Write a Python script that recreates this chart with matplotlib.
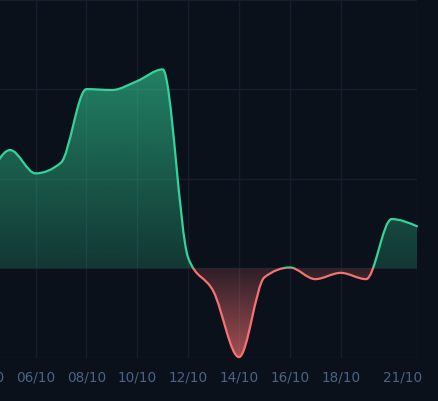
import numpy as np
import matplotlib
matplotlib.use("Agg")
import matplotlib.pyplot as plt
from matplotlib.path import Path
from matplotlib.patches import PathPatch, Rectangle
from matplotlib.transforms import ScaledTranslation

# ---- data ----
days = [4, 5, 6, 7, 8, 9, 10, 11, 12, 13, 14, 15, 16, 17, 18, 19, 20, 21]
values = [88, 132, 106, 118, 200, 199, 209, 222, 12, -26, -99, -10, 1, -12, -5, -12, 55, 47]
tick_days = [4, 6, 8, 10, 12, 14, 16, 18, 21]
tick_labels = ["04/10", "06/10", "08/10", "10/10", "12/10", "14/10", "16/10", "18/10", "21/10"]
y_ticks = [-100, 0, 100, 200, 300]

BG = "#0a111b"
GRID = "#151e2b"
GREEN = "#34d399"
RED = "#f87171"
TXT = "#4b6386"


def monotone_tangents(x, y):
    x = np.asarray(x, float); y = np.asarray(y, float)
    n = len(x)
    t = np.zeros(n)
    for i in range(1, n - 1):
        h0 = x[i] - x[i - 1]; h1 = x[i + 1] - x[i]
        s0 = (y[i] - y[i - 1]) / h0; s1 = (y[i + 1] - y[i]) / h1
        p = (s0 * h1 + s1 * h0) / (h0 + h1)
        t[i] = (np.sign(s0) + np.sign(s1)) * min(abs(s0), abs(s1), 0.5 * abs(p))
    h = x[1] - x[0]
    t[0] = (3 * (y[1] - y[0]) / h - t[1]) / 2
    h = x[-1] - x[-2]
    t[-1] = (3 * (y[-1] - y[-2]) / h - t[-2]) / 2
    return t


def curve_verts(x, y):
    t = monotone_tangents(x, y)
    verts = [(x[0], y[0])]
    codes = [Path.MOVETO]
    for i in range(len(x) - 1):
        dx = (x[i + 1] - x[i]) / 3.0
        verts += [(x[i] + dx, y[i] + dx * t[i]),
                  (x[i + 1] - dx, y[i + 1] - dx * t[i + 1]),
                  (x[i + 1], y[i + 1])]
        codes += [Path.CURVE4] * 3
    return verts, codes


W, H = 439, 401
fig = plt.figure(figsize=(W / 100, H / 100), dpi=100, facecolor=BG)
left_px, right_px = -15.3, 417.0
top_px, bot_px = -0.5, 358.0
ax = fig.add_axes([left_px / W, (H - bot_px) / H, (right_px - left_px) / W, (bot_px - top_px) / H])
ax.set_facecolor(BG)
for s in ax.spines.values():
    s.set_visible(False)

ax.set_xticks(tick_days)
ax.set_xticklabels(tick_labels)
ax.set_yticks(y_ticks)
ax.tick_params(axis="x", length=0, pad=9, labelsize=9.8, labelcolor=TXT)
ax.tick_params(axis="y", length=0, labelleft=False)
ax.grid(True, color=GRID, linewidth=1.0)
ax.set_axisbelow(True)

verts, codes = curve_verts(days, values)
line_path = Path(verts, codes)
area_verts = verts + [(days[-1], 0), (days[0], 0), (days[0], 0)]
area_codes = codes + [Path.LINETO, Path.LINETO, Path.CLOSEPOLY]
area_path = Path(area_verts, area_codes)

clip_patch = PathPatch(area_path, facecolor="none", edgecolor="none", transform=ax.transData)
ax.add_patch(clip_patch)

# green gradient above zero
n = 256
vg = np.linspace(0, 300, n)
ag = np.clip(0.2 + 0.0017 * vg, 0, 1)
g_rgb = matplotlib.colors.to_rgb(GREEN)
img_g = np.zeros((n, 2, 4))
img_g[:, :, :3] = g_rgb
img_g[:, :, 3] = ag[:, None]
im1 = ax.imshow(img_g, extent=(days[0], days[-1], 0, 300), origin="lower",
                aspect="auto", interpolation="bilinear", zorder=2)
im1.set_clip_path(clip_patch)

# red gradient below zero
vr = np.linspace(-100, 0, n)
ar = np.clip(0.15 + 0.005 * np.abs(vr), 0, 1)
r_rgb = matplotlib.colors.to_rgb(RED)
img_r = np.zeros((n, 2, 4))
img_r[:, :, :3] = r_rgb
img_r[:, :, 3] = ar[:, None]
im2 = ax.imshow(img_r, extent=(days[0], days[-1], -100, 0), origin="lower",
                aspect="auto", interpolation="bilinear", zorder=2)
im2.set_clip_path(clip_patch)

# line split by sign
lg = PathPatch(line_path, fill=False, edgecolor=GREEN, linewidth=1.6, zorder=3,
               capstyle="round", joinstyle="round")
ax.add_patch(lg)
lg.set_clip_path(Rectangle((days[0] - 1, 0), 30, 1000, transform=ax.transData))
lr = PathPatch(line_path, fill=False, edgecolor=RED, linewidth=1.6, zorder=3,
               capstyle="round", joinstyle="round")
ax.add_patch(lr)
lr.set_clip_path(Rectangle((days[0] - 1, -1000), 30, 1000, transform=ax.transData))

ax.set_xlim(days[0], days[-1])
ax.set_ylim(-100, 300)

# shift last label left so it stays inside the chart
last = ax.get_xticklabels()[-1]
last.set_transform(last.get_transform() + ScaledTranslation(-14.5 / 100, 0, fig.dpi_scale_trans))

fig.savefig("out.png", dpi=100, facecolor=BG)
